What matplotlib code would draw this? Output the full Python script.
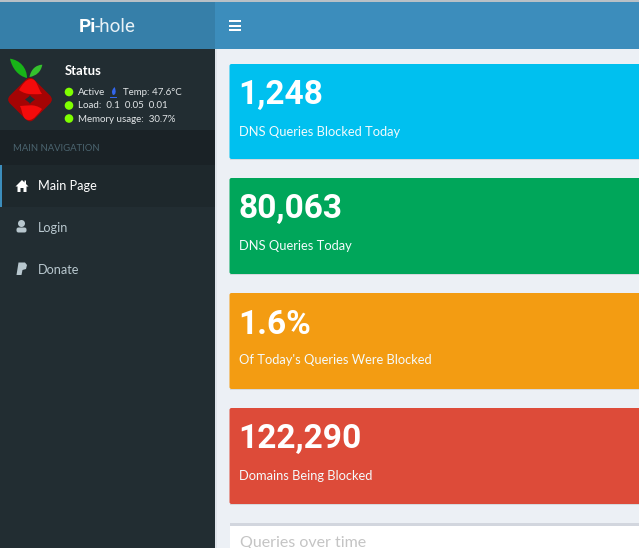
import matplotlib
matplotlib.use("Agg")
import matplotlib.pyplot as plt
from matplotlib.patches import Rectangle, FancyBboxPatch, Circle, Polygon, PathPatch
from matplotlib.path import Path
from matplotlib.transforms import Affine2D

W, H = 639, 548
plt.rcParams['font.family'] = ['Lato', 'DejaVu Sans']

card_values = ["1,248", "80,063", "1.6%", "122,290"]
card_labels = ["DNS Queries Blocked Today", "DNS Queries Today",
               "Of Today's Queries Were Blocked", "Domains Being Blocked"]
card_colors = ["#00c0ef", "#00a65a", "#f39c12", "#dd4b39"]
card_tops = [64, 178, 293, 408]
card_bottoms = [159, 274, 389, 504]

status_lines = ["Active", "Load:  0.1  0.05  0.01", "Memory usage:  30.7%"]
temperature = "Temp: 47.6°C"
nav_items = ["Main Page", "Login", "Donate"]

fig = plt.figure(figsize=(W / 100, H / 100), dpi=100, facecolor="#ecf0f5")
ax = fig.add_axes([0, 0, 1, 1])
ax.set_xlim(0, W)
ax.set_ylim(H, 0)
ax.axis("off")


def rect(x, y, w, h, c, z=1):
    ax.add_patch(Rectangle((x, y), w, h, fc=c, ec="none", zorder=z))


def label(x, y, s, size, c, **kw):
    ax.text(x, y, s, fontsize=size * 0.72, color=c, va="center", ha=kw.pop("ha", "left"), zorder=6, **kw)


def curve(points, c, z=5):
    # points: start, then triples of cubic Bezier control points
    codes = [Path.MOVETO] + [Path.CURVE4] * (len(points) - 1)
    ax.add_patch(PathPatch(Path(points, codes), fc=c, ec="none", zorder=z))


# header and sidebar
rect(0, 0, W, 49, "#3c8dbc")
rect(0, 0, 215, 49, "#367fa9")
rect(0, 0, W, 1.5, "#b8c0c6", 3)
rect(0, 49, 215, H - 49, "#222d32")
rect(215, 49, 2, H - 49, "#dfe4ea")
rect(0, 130, 215, 35, "#1a2226")
rect(0, 165, 215, 42, "#1e282c")
rect(0, 165, 2, 42, "#3c8dbc", 3)

ax.text(78.5, 26.5, "Pi", fontsize=13.6, color="white", fontweight="bold", va="center", zorder=6, family="Roboto")
ax.text(95, 26.5, "-hole", fontsize=13.6, color="#e8f1f6", va="center", zorder=6, family="Roboto")

# hamburger
for yy in (21, 25.5, 30):
    rect(229, yy - 1, 12, 2, "white", 4)

# logo
curve([(10, 58.7), (12, 68), (18, 76), (27, 78), (27, 68), (20, 60), (10, 58.7)], "#18b418")
curve([(42.3, 64.7), (36, 65), (31, 69), (29.5, 77), (36, 76), (41, 72), (42.3, 64.7)], "#35c12d")
ax.add_patch(FancyBboxPatch((13, 82.5), 34, 34, boxstyle="round,pad=0,rounding_size=6",
                            fc="#a50404", ec="none", zorder=4,
                            transform=Affine2D().rotate_deg_around(30, 99.5, 45) + ax.transData))
curve([(19, 90), (22, 85), (26, 79), (31, 79), (37, 79), (37, 87), (42, 94), (36, 94), (27, 96), (19, 90)], "#f40b0b")
curve([(42, 109), (38, 114), (34, 120), (29, 120), (22, 120), (23, 112), (20, 106), (26, 106), (34, 103), (42, 109)], "#f40b0b")
curve([(30, 95), (31, 97), (33, 98), (35, 99.5), (33, 101), (31, 102), (30, 104), (29, 102), (27, 101), (25, 99.5),
       (27, 98), (29, 97), (30, 95)], "#222d32", 6)

# status block
label(65, 71, "Status", 13, "white", fontweight="bold")
for yy, s in zip((92, 105.5, 118.5), status_lines):
    ax.add_patch(Circle((69, yy), 4.3, fc="#7fff00", ec="none", zorder=5))
    label(78, yy + 0.5, s, 9.8, "#e2e6e8")
label(123, 92.5, temperature, 9.8, "#e2e6e8")
curve([(114.5, 87), (112, 90), (111, 92), (113, 95), (116, 95), (116.5, 91), (114.5, 87)], "#3366ee")
rect(110, 96.5, 7, 1, "#3366ee", 5)
label(13, 148.5, "MAIN NAVIGATION", 9.5, "#4b646f")

# navigation
for yy, s, c in zip((186.5, 228, 269.5), nav_items, ("white", "#b8c7ce", "#b8c7ce")):
    label(37.5, yy, s, 12.6, c)
ax.add_patch(Polygon([(15.5, 186.5), (22, 180), (24.5, 182.5), (24.5, 180.5), (26, 180.5), (26, 184), (28.5, 186.5),
                      (26.5, 186.5), (26.5, 192), (23.5, 192), (23.5, 188), (20.5, 188), (20.5, 192), (17.5, 192), (17.5, 186.5)],
                     fc="white", ec="none", zorder=5))
ax.add_patch(Circle((21.5, 223.5), 3.5, fc="#b8c7ce", ec="none", zorder=5))
ax.add_patch(FancyBboxPatch((16.5, 227.5), 10, 5, boxstyle="round,pad=0,rounding_size=2", fc="#b8c7ce", ec="none", zorder=5))
ax.add_patch(Polygon([(18.5, 262.5), (25, 262.5), (27, 265), (26, 269), (22.5, 270), (21.5, 275), (16.5, 275)], fc="#b8c7ce", ec="none", zorder=5))

# cards
for top, bottom, c, v, s in zip(card_tops, card_bottoms, card_colors, card_values, card_labels):
    ax.add_patch(FancyBboxPatch((229.5, top), W + 10 - 229.5, bottom - top,
                                boxstyle="round,pad=0,rounding_size=2", fc=c, ec="none", zorder=2))
    rect(229.5, bottom, W - 229.5, 0.8, "#d5d9dd", 1)
    label(238.5, top + 31.5, v, 33.5, "white", fontweight="bold", family="Roboto")
    label(239, top + 67.5, s, 12.9, "#f4fbfd")

# lower panel
rect(229.5, 523, W - 229.5, 3, "#d2d6de", 2)
rect(229.5, 526, W - 229.5, H - 526, "white", 2)
label(240, 543, "Queries over time", 16, "#c4c4c4")

fig.savefig("out.png", dpi=100, facecolor=fig.get_facecolor())
